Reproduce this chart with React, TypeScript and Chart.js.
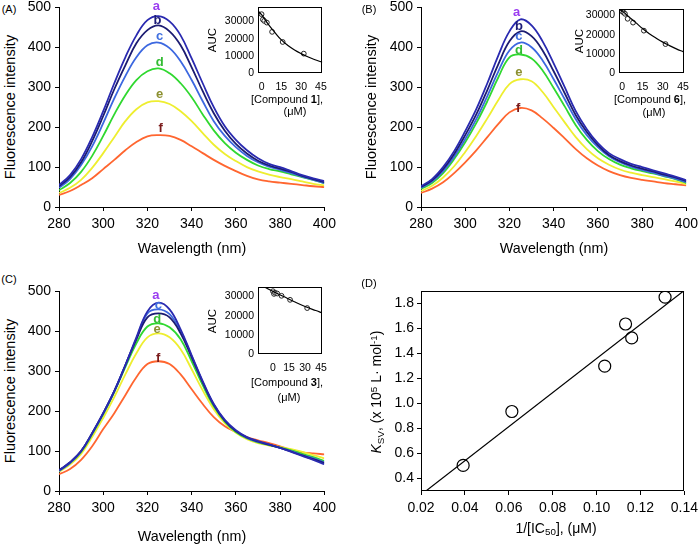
import React, { useEffect, useRef } from 'react';
import { Chart, registerables } from 'chart.js';

Chart.register(...registerables);

const FONT = '"Liberation Sans", Arial, Helvetica, sans-serif';

// ---------------- data ----------------
const wavelengths = [280, 285, 290, 295, 300, 305, 310, 315, 320, 325, 330, 335, 340, 345, 350, 355, 360, 365, 370, 375, 380, 385, 390, 395, 400];
const seriesLetters = ['a', 'b', 'c', 'd', 'e', 'f'];
const lineColors = ['#2a2ab0', '#1c1c72', '#3c68e0', '#30d830', '#eeee30', '#ff6630'];
const letterColors = ['#9a3cf0', '#1c1c78', '#4070e0', '#33bb33', '#8c9030', '#7a1a1a'];

// Panel A (compound 1)
const A_a = [55, 80, 120, 175, 240, 310, 375, 430, 468, 478, 465, 430, 372, 310, 250, 202, 168, 142, 122, 108, 100, 90, 80, 72, 65];
const A_b = [52, 75, 112, 165, 228, 295, 355, 410, 443, 455, 440, 405, 350, 290, 235, 191, 158, 134, 116, 104, 96, 88, 78, 70, 62];
const A_c = [48, 70, 105, 152, 210, 272, 328, 375, 405, 412, 398, 365, 318, 265, 215, 178, 150, 128, 112, 101, 93, 85, 76, 68, 60];
const A_d = [42, 60, 88, 128, 178, 232, 280, 318, 340, 347, 335, 310, 275, 232, 192, 160, 136, 118, 104, 95, 89, 82, 75, 68, 60];
const A_e = [35, 48, 68, 98, 135, 175, 215, 245, 262, 265, 258, 240, 215, 185, 156, 133, 115, 100, 89, 81, 75, 70, 64, 58, 54];
const A_f = [30, 40, 55, 72, 95, 118, 142, 163, 177, 180, 178, 168, 152, 135, 118, 103, 90, 78, 69, 64, 61, 58, 55, 52, 50];
const A_labelX = [324, 324.5, 325.5, 325.5, 325.5, 326];
const A_labelY = [503, 467, 428, 362, 282, 196];

// Panel B (compound 6)
const B_a = [52, 70, 100, 140, 190, 245, 310, 380, 440, 470, 455, 415, 360, 300, 240, 195, 160, 135, 120, 108, 100, 92, 84, 76, 67];
const B_b = [50, 67, 95, 133, 180, 232, 293, 358, 415, 440, 428, 392, 340, 285, 230, 188, 155, 130, 115, 104, 96, 89, 81, 74, 65];
const B_c = [48, 64, 90, 126, 170, 220, 278, 340, 392, 412, 400, 367, 320, 270, 220, 180, 150, 127, 112, 101, 93, 86, 78, 71, 62];
const B_d = [45, 60, 85, 120, 162, 210, 265, 325, 375, 382, 372, 342, 298, 252, 205, 168, 140, 120, 106, 97, 90, 84, 77, 70, 60];
const B_e = [40, 53, 74, 102, 138, 178, 222, 268, 308, 320, 315, 288, 250, 212, 175, 145, 122, 106, 94, 86, 80, 75, 70, 64, 57];
const B_f = [35, 46, 62, 85, 112, 142, 175, 208, 237, 248, 242, 222, 198, 172, 145, 122, 104, 90, 80, 73, 68, 64, 60, 57, 54];
const B_labelX = [323.2, 324.3, 324.3, 324.3, 324.3, 324];
const B_labelY = [487, 453, 427, 392, 337, 248];

// Panel C (compound 3)
const C_a = [52, 72, 100, 145, 195, 250, 315, 385, 450, 472, 455, 405, 340, 275, 218, 178, 152, 135, 125, 117, 108, 98, 88, 78, 67];
const C_b = [52, 72, 100, 145, 195, 250, 315, 380, 435, 445, 435, 395, 335, 272, 216, 176, 150, 134, 124, 116, 108, 99, 89, 80, 70];
const C_c = [50, 70, 99, 144, 194, 250, 315, 382, 445, 455, 443, 400, 338, 273, 216, 176, 150, 133, 123, 116, 108, 100, 90, 82, 72];
const C_d = [50, 70, 98, 142, 192, 248, 310, 370, 412, 420, 410, 380, 325, 265, 212, 174, 148, 132, 122, 115, 109, 102, 93, 85, 75];
const C_e = [48, 66, 93, 135, 183, 235, 292, 345, 385, 395, 385, 355, 305, 252, 205, 170, 146, 130, 120, 114, 110, 105, 98, 90, 82];
const C_f = [42, 55, 78, 112, 155, 195, 240, 285, 318, 325, 318, 292, 255, 218, 185, 162, 148, 135, 127, 120, 112, 103, 97, 94, 92];
const C_labelX = [323.8, 324.5, 324.9, 324.4, 324.4, 324.9];
const C_labelY: (number | null)[] = [489, null, 464, 430, 406, 333];

// Insets: AUC vs concentration
const concA = [0, 1, 2, 4, 8, 16, 32];
const aucA = [34300, 31200, 30400, 29400, 24000, 18100, 11300];
const fitXA = [-2.5, 0, 5, 10, 15, 20, 25, 30, 35, 40, 46];
const fitYA = [36000, 34000, 28500, 23700, 19300, 16000, 13400, 11300, 9500, 7900, 6300];

const concB = [0, 1, 2, 4, 8, 16, 32];
const aucB = [32100, 31600, 30900, 28300, 26300, 22100, 15100];
const fitXB = [-2.4, 0, 5, 10, 15, 20, 25, 30, 35, 40, 45.3];
const fitYB = [33400, 32300, 29300, 26300, 23200, 20500, 18200, 16100, 14300, 12600, 11000];

const concC = [0, 1, 2, 4, 8, 16, 32];
const aucC = [32800, 31400, 32000, 31600, 30400, 28300, 24000];
const fitXC = [-14, -8, 0, 10, 20, 30, 40, 45.5];
const fitYC = [37000, 35000, 32700, 30000, 27300, 24800, 22700, 21600];

// Panel D
const invIC50 = [0.0392, 0.0614, 0.1037, 0.1132, 0.116, 0.1312];
const ksv = [0.505, 0.936, 1.299, 1.636, 1.525, 1.851];
const fitXD = [0.0215, 0.14];
const fitYD = [0.29, 1.905];

// Tick labels
const spectrumXTicks = [280, 300, 320, 340, 360, 380, 400];
const spectrumYTicks = [0, 100, 200, 300, 400, 500];
const aucTicks = [0, 10000, 20000, 30000];
const concTicks = [0, 15, 30, 45];
const dXTicks = [0.02, 0.04, 0.06, 0.08, 0.1, 0.12, 0.14];
const dYTicks = [0.4, 0.6, 0.8, 1.0, 1.2, 1.4, 1.6, 1.8];

// ---------------- helpers ----------------
type Pad = { l: number; r: number; t: number; b: number };
type Area = { l: number; t: number; r: number; b: number };

function axis(o: {
  min: number; max: number; ticks: number[]; fmt: (v: number) => string; size: number;
  tickLen: number; padding: number; fit: number; vertical: boolean; border: boolean;
}) {
  return {
    type: 'linear',
    min: o.min,
    max: o.max,
    afterBuildTicks: (s: any) => { s.ticks = o.ticks.map((v) => ({ value: v })); },
    afterFit: (s: any) => { if (o.vertical) s.width = o.fit; else s.height = o.fit; },
    grid: {
      display: o.tickLen > 0, drawOnChartArea: false, drawTicks: o.tickLen > 0,
      tickLength: o.tickLen, color: '#000', tickColor: '#000', tickWidth: 1,
    },
    border: { display: o.border, color: '#000', width: 1 },
    ticks: {
      color: '#000', font: { family: FONT, size: o.size }, padding: o.padding,
      autoSkip: false, maxRotation: 0, minRotation: 0,
      callback: (v: any) => o.fmt(Number(v)),
    },
    title: { display: false },
  };
}

const framePlugin = {
  id: 'frame',
  afterDatasetsDraw(chart: any) {
    const { ctx, chartArea: a } = chart;
    ctx.save();
    ctx.strokeStyle = '#000';
    ctx.lineWidth = 1;
    ctx.strokeRect(Math.round(a.left) + 0.5, Math.round(a.top) + 0.5, Math.round(a.width) - 1, Math.round(a.height) - 1);
    ctx.restore();
  },
};

function letterPlugin(lx: number[], ly: (number | null)[]) {
  return {
    id: 'letters',
    afterDatasetsDraw(chart: any) {
      const { ctx, scales } = chart;
      ctx.save();
      ctx.font = `bold 13px ${FONT}`;
      ctx.textAlign = 'center';
      ctx.textBaseline = 'middle';
      ly.forEach((v, i) => {
        if (v == null) return;
        ctx.fillStyle = letterColors[i];
        ctx.fillText(seriesLetters[i], scales.x.getPixelForValue(lx[i]), scales.y.getPixelForValue(v));
      });
      ctx.restore();
    },
  };
}

function baseOptions(pad: Pad, scales: any) {
  return {
    responsive: true,
    maintainAspectRatio: false,
    animation: false,
    devicePixelRatio: 1,
    events: [],
    layout: { padding: { top: pad.t, right: pad.r, left: 0, bottom: 0 } },
    plugins: { legend: { display: false }, tooltip: { enabled: false }, title: { display: false } },
    scales,
  };
}

function spectrumConfig(series: number[][], lx: number[], ly: (number | null)[]) {
  return (pad: Pad) => ({
    type: 'line',
    data: {
      datasets: series.map((vals, i) => ({
        label: seriesLetters[i],
        data: wavelengths.map((w, j) => ({ x: w, y: vals[j] })),
        borderColor: lineColors[i],
        backgroundColor: lineColors[i],
        borderWidth: 1.8,
        pointRadius: 0,
        tension: 0.4,
        fill: false,
      })),
    },
    options: baseOptions(pad, {
      x: axis({ min: 280, max: 400, ticks: spectrumXTicks, fmt: (v) => String(v), size: 14, tickLen: 4, padding: 5, fit: pad.b, vertical: false, border: true }),
      y: axis({ min: 0, max: 500, ticks: spectrumYTicks, fmt: (v) => String(v), size: 14, tickLen: 4, padding: 4, fit: pad.l, vertical: true, border: true }),
    }),
    plugins: [letterPlugin(lx, ly)],
  });
}

function insetConfig(cx: number[], cy: number[], fx: number[], fy: number[], xmin: number, xmax: number, ymax: number) {
  return (pad: Pad) => ({
    type: 'line',
    data: {
      datasets: [
        {
          label: 'fit',
          data: fx.map((x, i) => ({ x, y: fy[i] })),
          borderColor: '#000',
          borderWidth: 1.2,
          pointRadius: 0,
          tension: 0.4,
          fill: false,
        },
        {
          label: 'AUC',
          data: cx.map((x, i) => ({ x, y: cy[i] })),
          showLine: false,
          pointRadius: 2.4,
          pointBorderWidth: 1,
          pointBorderColor: '#222',
          pointBackgroundColor: 'rgba(255,255,255,0.6)',
        },
      ],
    },
    options: baseOptions(pad, {
      x: axis({ min: xmin, max: xmax, ticks: concTicks, fmt: (v) => String(v), size: 10.5, tickLen: 0, padding: 8, fit: pad.b, vertical: false, border: false }),
      y: axis({ min: 0, max: ymax, ticks: aucTicks, fmt: (v) => String(v), size: 10.5, tickLen: 0, padding: 4, fit: pad.l, vertical: true, border: false }),
    }),
    plugins: [framePlugin],
  });
}

function correlationConfig() {
  return (pad: Pad) => ({
    type: 'line',
    data: {
      datasets: [
        {
          label: 'fit',
          data: fitXD.map((x, i) => ({ x, y: fitYD[i] })),
          borderColor: '#000',
          borderWidth: 1.2,
          pointRadius: 0,
          fill: false,
        },
        {
          label: 'Ksv',
          data: invIC50.map((x, i) => ({ x, y: ksv[i] })),
          showLine: false,
          pointRadius: 6,
          pointBorderWidth: 1.2,
          pointBorderColor: '#000',
          pointBackgroundColor: '#fff',
        },
      ],
    },
    options: baseOptions(pad, {
      x: axis({ min: 0.02, max: 0.14, ticks: dXTicks, fmt: (v) => v.toFixed(2), size: 14, tickLen: 4, padding: 5, fit: pad.b, vertical: false, border: false }),
      y: axis({ min: 0.3, max: 1.9, ticks: dYTicks, fmt: (v) => v.toFixed(1), size: 14, tickLen: 4, padding: 3, fit: pad.l, vertical: true, border: false }),
    }),
    plugins: [framePlugin],
  });
}

function ChartBox({ area, pad, make }: { area: Area; pad: Pad; make: (p: Pad) => any }) {
  const ref = useRef<HTMLCanvasElement>(null);
  useEffect(() => {
    const chart = new Chart(ref.current as HTMLCanvasElement, make(pad));
    return () => chart.destroy();
  }, []);
  const w = area.r - area.l + pad.l + pad.r;
  const h = area.b - area.t + pad.t + pad.b;
  return (
    <div style={{ position: 'absolute', left: area.l - pad.l, top: area.t - pad.t, width: w, height: h }}>
      <canvas ref={ref} />
    </div>
  );
}

function Txt({ x, y, size, rotate, children }: { x: number; y: number; size: number; rotate?: boolean; children: any }) {
  return (
    <div
      style={{
        position: 'absolute', left: x, top: y, fontSize: size, lineHeight: 1, whiteSpace: 'nowrap',
        color: '#000', fontFamily: FONT,
        transform: `translate(-50%, -50%)${rotate ? ' rotate(-90deg)' : ''}`,
      }}
    >
      {children}
    </div>
  );
}

const supStyle: any = { fontSize: '0.7em', verticalAlign: '0.45em' };
const subStyle: any = { fontSize: '0.7em', verticalAlign: '-0.25em' };

const mainPad: Pad = { l: 40, r: 16, t: 12, b: 40 };
const insetPad: Pad = { l: 40, r: 10, t: 12, b: 24 };

export default function App() {
  return (
    <div style={{ position: 'fixed', left: 0, top: 0, width: 700, height: 546, background: '#fff', overflow: 'hidden', fontFamily: FONT }}>
      <ChartBox area={{ l: 59, t: 7, r: 325, b: 207 }} pad={mainPad} make={spectrumConfig([A_a, A_b, A_c, A_d, A_e, A_f], A_labelX, A_labelY)} />
      <ChartBox area={{ l: 421, t: 7, r: 687, b: 207 }} pad={mainPad} make={spectrumConfig([B_a, B_b, B_c, B_d, B_e, B_f], B_labelX, B_labelY)} />
      <ChartBox area={{ l: 59, t: 291, r: 325, b: 491 }} pad={mainPad} make={spectrumConfig([C_a, C_b, C_c, C_d, C_e, C_f], C_labelX, C_labelY)} />
      <ChartBox area={{ l: 421, t: 291, r: 687, b: 491 }} pad={mainPad} make={correlationConfig()} />

      <ChartBox area={{ l: 258, t: 7, r: 325, b: 73 }} pad={insetPad} make={insetConfig(concA, aucA, fitXA, fitYA, -2.7, 46.2, 38500)} />
      <ChartBox area={{ l: 619, t: 9, r: 687, b: 73 }} pad={insetPad} make={insetConfig(concB, aucB, fitXB, fitYB, -2.4, 45.3, 33400)} />
      <ChartBox area={{ l: 258, t: 287, r: 325, b: 354 }} pad={insetPad} make={insetConfig(concC, aucC, fitXC, fitYC, -14, 45.5, 35000)} />

      {/* panel labels */}
      <Txt x={9} y={9} size={11}>(A)</Txt>
      <Txt x={369} y={9} size={11}>(B)</Txt>
      <Txt x={9} y={279} size={11}>(C)</Txt>
      <Txt x={369} y={283} size={11}>(D)</Txt>

      {/* main axis titles */}
      <Txt x={10} y={107} size={14.5} rotate>Fluorescence intensity</Txt>
      <Txt x={192} y={248} size={14.3}>Wavelength (nm)</Txt>
      <Txt x={371} y={107} size={14.5} rotate>Fluorescence intensity</Txt>
      <Txt x={554} y={248} size={14.3}>Wavelength (nm)</Txt>
      <Txt x={10} y={391} size={14.5} rotate>Fluorescence intensity</Txt>
      <Txt x={192} y={536} size={14.3}>Wavelength (nm)</Txt>

      {/* panel D titles */}
      <Txt x={377} y={392} size={14} rotate>
        <i>K</i><span style={subStyle}>SV</span>, (x 10<span style={supStyle}>5</span> L· mol<span style={supStyle}>-1</span>)
      </Txt>
      <Txt x={556} y={529} size={14}>
        1/[IC<span style={subStyle}>50</span>], (μM)
      </Txt>

      {/* inset titles */}
      <Txt x={213} y={40} size={11.5} rotate>AUC</Txt>
      <Txt x={287} y={99} size={11}>[Compound <b>1</b>],</Txt>
      <Txt x={295} y={111} size={11}>(μM)</Txt>

      <Txt x={580} y={41} size={11.5} rotate>AUC</Txt>
      <Txt x={650} y={99} size={11}>[Compound <b>6</b>],</Txt>
      <Txt x={654} y={112} size={11}>(μM)</Txt>

      <Txt x={213} y={321} size={11.5} rotate>AUC</Txt>
      <Txt x={287} y={382} size={11}>[Compound <b>3</b>],</Txt>
      <Txt x={289} y={397} size={11}>(μM)</Txt>
    </div>
  );
}
